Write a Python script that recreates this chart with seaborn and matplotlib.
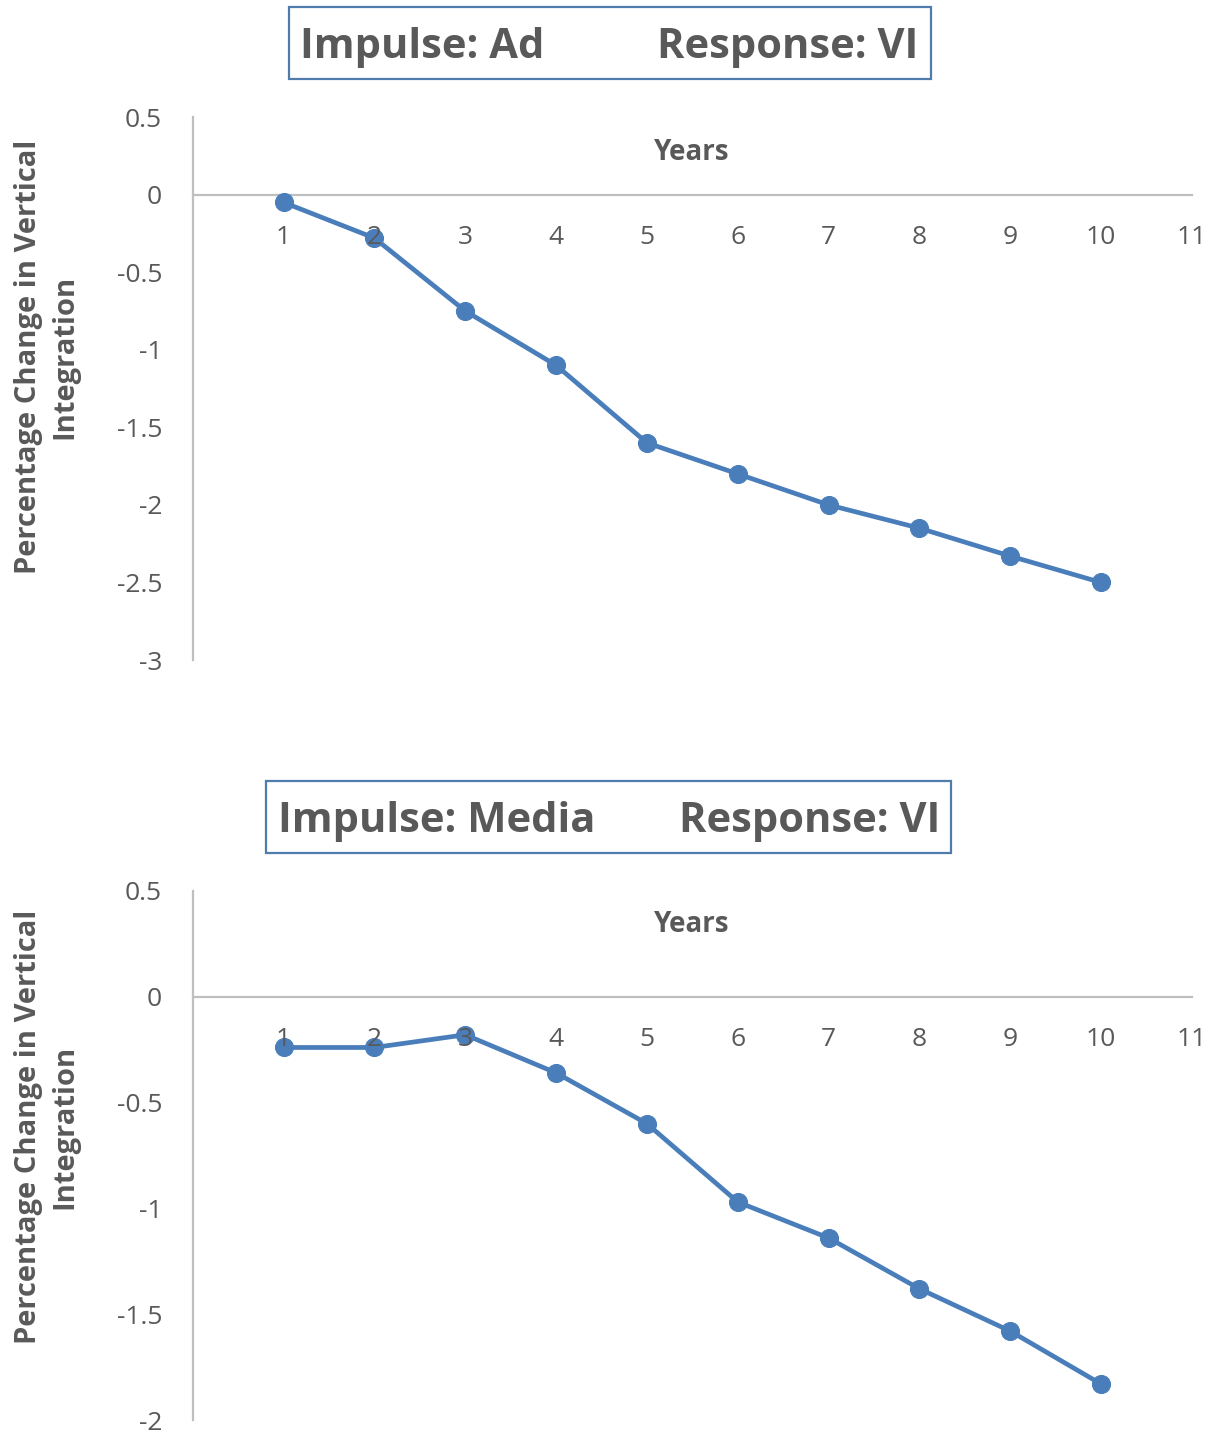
import matplotlib
matplotlib.use("Agg")
import matplotlib.pyplot as plt
from matplotlib.patches import Rectangle
import seaborn as sns
import pandas as pd

years = [1, 2, 3, 4, 5, 6, 7, 8, 9, 10]
ad_response = [-0.05, -0.28, -0.75, -1.10, -1.60, -1.80, -2.00, -2.15, -2.33, -2.50]
media_response = [-0.24, -0.24, -0.18, -0.36, -0.60, -0.97, -1.14, -1.38, -1.58, -1.83]

x_ticks = list(range(1, 12))
top_yticks = [0.5, 0, -0.5, -1, -1.5, -2, -2.5, -3]
bottom_yticks = [0.5, 0, -0.5, -1, -1.5, -2]

impulse_titles = ["Impulse: Ad", "Impulse: Media"]
response_title = "Response: VI"
y_label = "Percentage Change in Vertical\nIntegration"
x_label = "Years"

sns.set_style("white")
plt.rcParams["font.family"] = ["Open Sans", "DejaVu Sans"]

TEXT = "#595959"
AXIS = "#BFBFBF"
LINE = "#4A7EBB"
BOX = "#4F7CAC"

W, H = 1220, 1438
fig = plt.figure(figsize=(W / 100, H / 100), dpi=100)


def fx(px):
    return px / W


def fy(py):
    return 1 - py / H


panels = [
    dict(rect=[0.158, 0.541, 0.819, 0.3776], values=ad_response,
         yticks=top_yticks, ylim=(-3, 0.5), impulse=impulse_titles[0],
         box=(289, 7, 931, 79), left_x=300, right_x=918,
         xlabel_y=152, ylabel_y=357),
    dict(rect=[0.158, 0.0125, 0.819, 0.368], values=media_response,
         yticks=bottom_yticks, ylim=(-2, 0.5), impulse=impulse_titles[1],
         box=(266, 781, 951, 853), left_x=278, right_x=940,
         xlabel_y=924, ylabel_y=1127),
]

for p in panels:
    ax = fig.add_axes(p["rect"])
    df = pd.DataFrame({"year": years, "value": p["values"]})
    sns.lineplot(data=df, x="year", y="value", ax=ax, color=LINE,
                 linewidth=3.4, marker="o", markersize=13,
                 markeredgecolor=LINE, zorder=2)
    ax.set_xlim(0, 11)
    ax.set_ylim(*p["ylim"])
    ax.set_xticks(x_ticks)
    ax.set_xticklabels([str(t) for t in x_ticks])
    ax.set_yticks(p["yticks"])
    ax.set_yticklabels([f"{t:g}" for t in p["yticks"]])
    ax.set_xlabel("")
    ax.set_ylabel("")
    for side in ("top", "right"):
        ax.spines[side].set_visible(False)
    ax.spines["bottom"].set_position(("data", 0))
    for side in ("bottom", "left"):
        ax.spines[side].set_color(AXIS)
        ax.spines[side].set_linewidth(1.6)
        ax.spines[side].set_zorder(1.5)
    ax.tick_params(axis="x", length=0, pad=22, labelsize=19, labelcolor=TEXT)
    ax.tick_params(axis="y", length=0, pad=22, labelsize=19, labelcolor=TEXT)
    # year labels sit on top of the series
    ax.xaxis.set_zorder(3)
    ax.yaxis.set_zorder(3)

    fig.text(fx(692), fy(p["xlabel_y"]), x_label, ha="center", va="center",
             fontsize=20, fontweight="bold", color=TEXT)
    fig.text(fx(47), fy(p["ylabel_y"]), y_label, ha="center", va="center",
             rotation=90, fontsize=21, fontweight="bold", color=TEXT,
             linespacing=1.35)

    x0, y0, x1, y1 = p["box"]
    fig.add_artist(Rectangle((fx(x0), fy(y1)), fx(x1 - x0), (y1 - y0) / H,
                             transform=fig.transFigure, facecolor="white",
                             edgecolor=BOX, linewidth=1.6))
    cy = fy((y0 + y1) / 2 + 4)
    fig.text(fx(p["left_x"]), cy, p["impulse"], ha="left", va="center",
             fontsize=30, fontweight="bold", color=TEXT)
    fig.text(fx(p["right_x"]), cy, response_title, ha="right", va="center",
             fontsize=30, fontweight="bold", color=TEXT)

fig.savefig("out.png", dpi=100, facecolor="white")
